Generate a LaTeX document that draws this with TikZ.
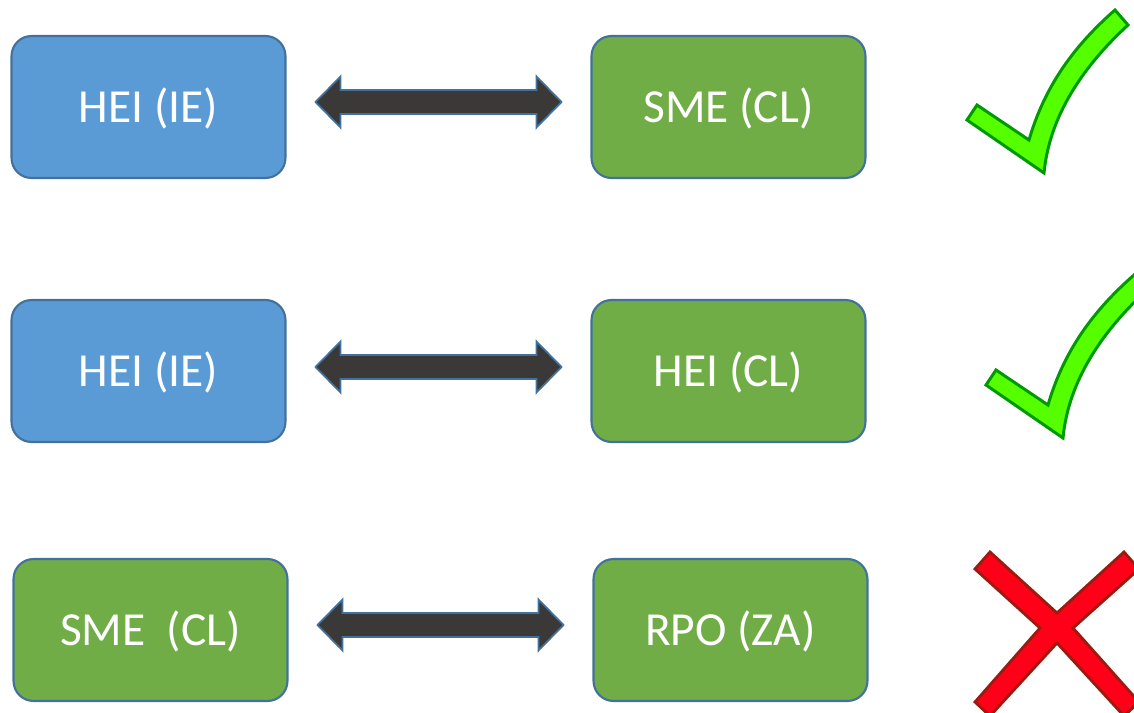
\documentclass[tikz,border=0pt]{standalone}
\usepackage{fontspec}
\setmainfont{Carlito}
\usetikzlibrary{calc}
\definecolor{boxblue}{HTML}{5B9BD5}
\definecolor{boxgreen}{HTML}{70AD47}
\definecolor{boxline}{HTML}{41719C}
\definecolor{arrowgray}{HTML}{3B3838}
\definecolor{okfill}{HTML}{55FF00}
\definecolor{okline}{HTML}{009A00}
\definecolor{nofill}{HTML}{FF0018}
\definecolor{noline}{HTML}{9B1B0F}
\tikzset{
  party/.style={rectangle, rounded corners=0.4cm, draw=boxline, line width=1.2pt,
    minimum width=5.48cm, minimum height=2.84cm, text=white,
    text height=17.4pt, text depth=0pt,
    font=\fontsize{27}{32}\selectfont},
  ie/.style={party, fill=boxblue},
  cl/.style={party, fill=boxgreen},
  blockarrow/.style={draw=boxline, fill=arrowgray, line width=1pt, line join=miter},
  checkmark/.style={draw=okline, fill=okfill, line width=1.7pt},
  crossmark/.style={draw=noline, fill=nofill, line width=1.6pt}
}
\begin{document}
\begin{tikzpicture}[x=0.02cm, y=-0.02cm]
\useasboundingbox (0,0) rectangle (1134,713);
\node (hei1)[ie] at (148.5, 107) {HEI (IE)};
\node (sme1)[cl] at (728.5, 107) {SME (CL)};
\node (hei2)[ie] at (148.5, 371) {HEI (IE)};
\node (hei3)[cl] at (728.5, 371) {HEI (CL)};
\node (sme2)[cl] at (150.5, 630) {SME\ \ (CL)};
\node (rpo)[cl] at (730.5, 630) {RPO (ZA)};
\coordinate (m1) at ($(hei1)!0.5!(sme1)+(0,-5)$);
\coordinate (m2) at ($(hei2)!0.5!(hei3)+(0,-4)$);
\coordinate (m3) at ($(sme2)!0.5!(rpo)+(0,-5)$);
\foreach \m in {m1, m2, m3}
  \draw[blockarrow] (\m) ++(-123,0) -- ++(25,-25.5) -- ++(0,13.5) -- ++(196,0)
    -- ++(0,-13.5) -- ++(25,25.5) -- ++(-25,25.5) -- ++(0,-13.5) -- ++(-196,0)
    -- ++(0,13.5) -- cycle;
% ticks and cross
\foreach \dx/\dy in {0/0, 19/265}
  \draw[checkmark, shift={(\dx,\dy)}] (967,120) -- (977,105) -- (1029,140)
    .. controls (1045,85) and (1075,45) .. (1115,10) -- (1128,25)
    .. controls (1090,60) and (1050,110) .. (1044,173) -- cycle;
\draw[crossmark] (990,552) -- (1057,613) -- (1124,552) -- (1139,569) -- (1073,628)
  -- (1139,702) -- (1124,716) -- (1057,643) -- (990,716) -- (975,702)
  -- (1040,628) -- (975,569) -- cycle;
\end{tikzpicture}
\end{document}
